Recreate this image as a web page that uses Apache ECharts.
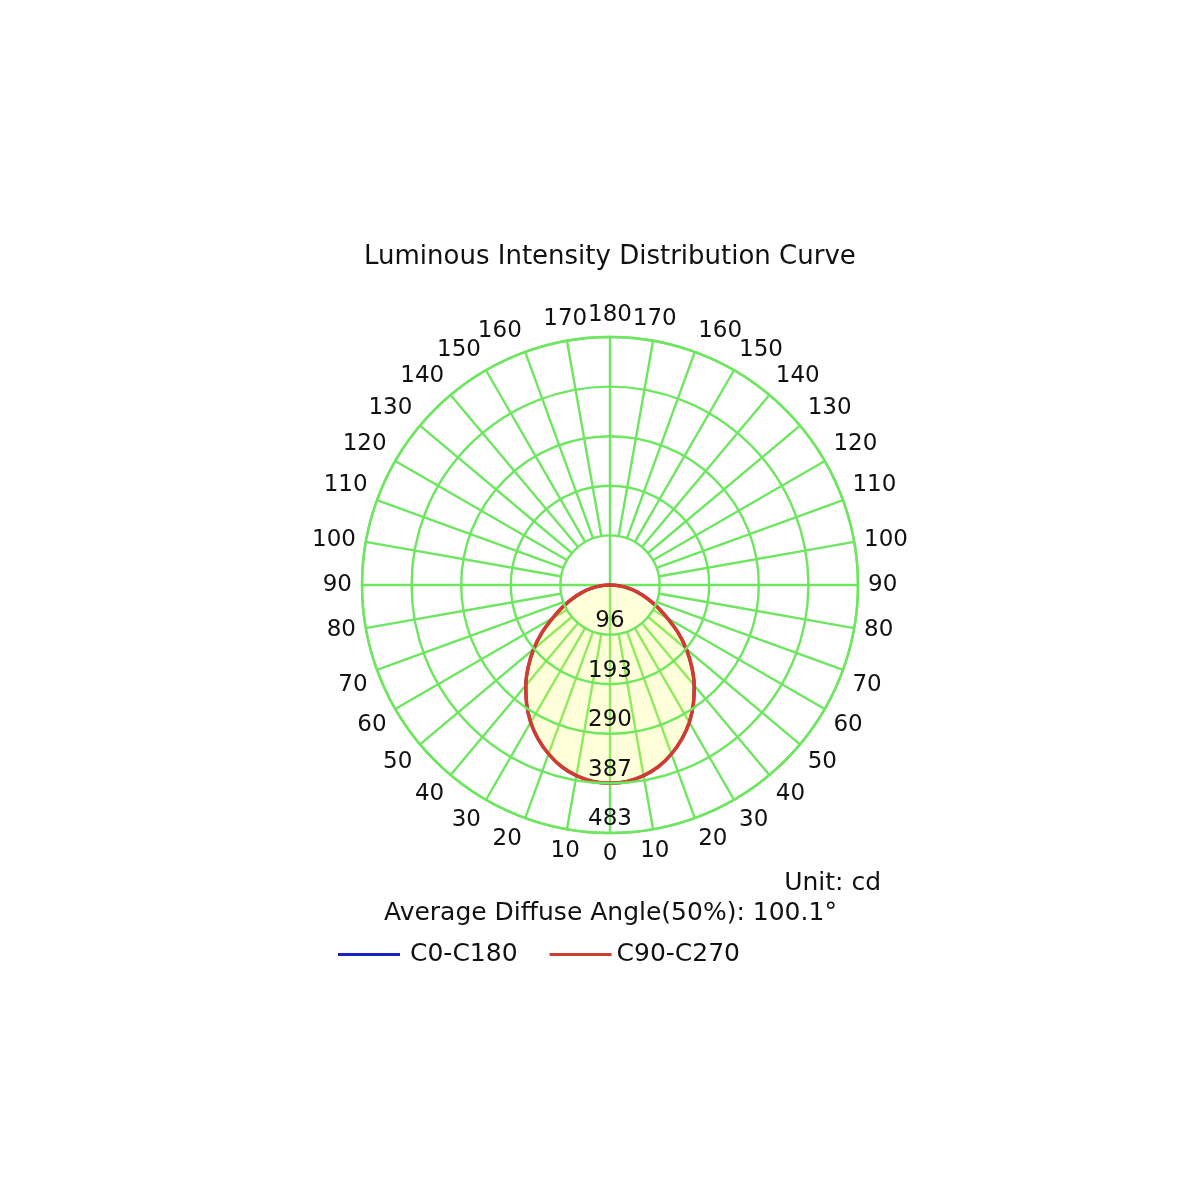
<!DOCTYPE html>
<html>
<head>
<meta charset="utf-8">
<script src="https://cdn.jsdelivr.net/npm/echarts@6/dist/echarts.min.js"></script>
<style>
  html, body { margin: 0; padding: 0; background: #fff; }
  #main { width: 1200px; height: 1200px; }
</style>
</head>
<body>
<div id="main"></div>
<script>
// gamma angles (deg from nadir) and intensities (cd)
const gammaAngles = [0, 5, 10, 15, 20, 25, 30, 35, 40, 45, 50, 55, 60, 65, 70, 75, 80, 85, 90];
const c0c180 = [386, 384, 377, 366, 350, 331, 309, 283, 255, 225, 194, 162, 129, 102, 78, 57, 37, 17, 0];
const c90c270 = [386, 384, 377, 366, 350, 331, 309, 283, 255, 225, 194, 162, 129, 102, 78, 57, 37, 17, 0];
const radialLabels = ['96', '193', '290', '387', '483'];
const radialMax = 483;
const radialStep = 96.6;
const seriesNames = ['C0-C180', 'C90-C270'];

const GREEN = '#6ee660';
const FONT = 'DejaVu Sans';

let chartDom = document.getElementById('main');
let myChart = echarts.init(chartDom);

// right half (C90 / C0) then left half (C270 / C180), both planes symmetric
function planeData(vals) {
    let right = vals.map(function (v, i) { return [v, 360 - gammaAngles[i]]; }).reverse();
    let left = vals.slice(1).map(function (v, i) { return [v, gammaAngles[i + 1]]; });
    return right.concat(left);
}

let option = {
    backgroundColor: '#fff',
    title: [
        {
            text: 'Luminous Intensity Distribution Curve',
            left: 359,
            top: 239,
            textStyle: { fontFamily: FONT, fontSize: 26, fontWeight: 'normal', color: '#111' }
        },
        {
            text: 'Unit: cd',
            right: 314,
            top: 866,
            textStyle: { fontFamily: FONT, fontSize: 25, fontWeight: 'normal', color: '#111' }
        },
        {
            text: 'Average Diffuse Angle(50%): 100.1°',
            left: 379,
            top: 896,
            textStyle: { fontFamily: FONT, fontSize: 25, fontWeight: 'normal', color: '#111' }
        }
    ],
    legend: {
        left: 333,
        top: 937,
        icon: 'rect',
        itemWidth: 62,
        itemHeight: 3,
        itemGap: 32,
        data: [
            { name: seriesNames[0], textStyle: { padding: [0, 0, 0, 5] } },
            { name: seriesNames[1] }
        ],
        textStyle: { fontFamily: FONT, fontSize: 25, color: '#111' }
    },
    polar: [
        { center: [610, 585], radius: [0, 49] },    // cross in the middle
        { center: [610, 585], radius: [49, 248] },  // 10 deg spokes
        { center: [610, 585], radius: [0, 248] }    // rings, labels, curves
    ],
    angleAxis: [
        {
            polarIndex: 0, type: 'value', min: 0, max: 360, interval: 90, startAngle: 270,
            axisLine: { show: false }, axisTick: { show: false }, axisLabel: { show: false },
            splitLine: { show: true, lineStyle: { color: GREEN, width: 2.4 } }
        },
        {
            polarIndex: 1, type: 'value', min: 0, max: 360, interval: 10, startAngle: 270,
            axisLine: { show: false }, axisTick: { show: false }, axisLabel: { show: false },
            splitLine: { show: true, lineStyle: { color: GREEN, width: 2.4 } }
        },
        {
            polarIndex: 2, type: 'value', min: 0, max: 360, interval: 10, startAngle: 270,
            axisLine: { show: true, lineStyle: { color: GREEN, width: 2.4 } },
            axisTick: { show: false },
            splitLine: { show: false },
            axisLabel: {
                show: true,
                margin: 10,
                fontFamily: FONT,
                fontSize: 23,
                color: '#111',
                formatter: function (v) { return String(v > 180 ? 360 - v : v); }
            }
        }
    ],
    radiusAxis: [
        { polarIndex: 0, min: 0, max: 1, axisLine: { show: false }, axisTick: { show: false }, axisLabel: { show: false }, splitLine: { show: false } },
        { polarIndex: 1, min: 0, max: 1, axisLine: { show: false }, axisTick: { show: false }, axisLabel: { show: false }, splitLine: { show: false } },
        {
            polarIndex: 2, type: 'value', min: 0, max: radialMax, interval: radialStep,
            axisLine: { show: false },
            axisTick: { show: false },
            splitLine: { show: true, lineStyle: { color: GREEN, width: 2.4 } },
            axisLabel: {
                show: true,
                margin: 0,
                align: 'center',
                verticalAlign: 'bottom',
                padding: [0, 0, 2, 0],
                fontFamily: FONT,
                fontSize: 23,
                color: '#111',
                formatter: function (v) {
                    let i = Math.round(v / radialStep);
                    return i > 0 ? radialLabels[i - 1] : '';
                }
            },
            z: 5
        }
    ],
    series: [
        {
            name: seriesNames[0],
            type: 'line',
            coordinateSystem: 'polar',
            polarIndex: 2,
            data: planeData(c0c180),
            showSymbol: false,
            smooth: 0.3,
            lineStyle: { color: '#1522c4', width: 3 },
            itemStyle: { color: '#1522c4' },
            areaStyle: { color: 'rgba(255,255,90,0.33)' },
            animation: false
        },
        {
            name: seriesNames[1],
            type: 'line',
            coordinateSystem: 'polar',
            polarIndex: 2,
            data: planeData(c90c270),
            showSymbol: false,
            smooth: 0.3,
            lineStyle: { color: '#d13b30', width: 3.6 },
            itemStyle: { color: '#d13b30' },
            animation: false
        }
    ]
};

option && myChart.setOption(option);
</script>
</body>
</html>
